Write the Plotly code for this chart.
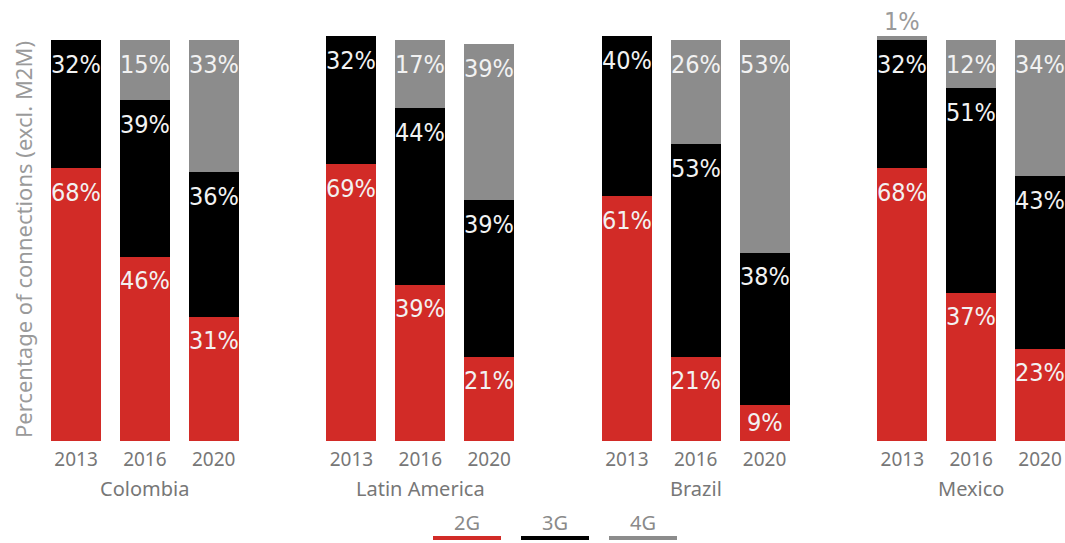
import plotly.graph_objects as go

groups = ["Colombia", "Latin America", "Brazil", "Mexico"]
years = ["2013", "2016", "2020"]
series_names = ["2G", "3G", "4G"]
share_2g = [68, 46, 31, 69, 39, 21, 61, 21, 9, 68, 37, 23]
share_3g = [32, 39, 36, 32, 44, 39, 40, 53, 38, 32, 51, 43]
share_4g = [0, 15, 33, 0, 17, 39, 0, 26, 53, 1, 12, 34]
colors = ["#D22B27", "#000000", "#8C8C8C"]

series = [share_2g, share_3g, share_4g]
x_pos = [4 * g + j for g in range(len(groups)) for j in range(len(years))]
year_labels = years * len(groups)

W, H = 1065, 543
M_T, M_B = 36, 102
Y_MAX = 101
plot_h = H - M_T - M_B
px_per_unit = plot_h / Y_MAX

fig = go.Figure()
for name, vals, col in zip(series_names, series, colors):
    fig.add_trace(go.Bar(
        x=x_pos, y=vals, name=name, width=0.726,
        marker=dict(color=col, line=dict(width=0)),
        showlegend=False, hoverinfo="name+y",
    ))

LABEL_FAMILY = "DejaVu Sans Condensed, Liberation Sans Narrow, Arial Narrow, sans-serif"
label_font = dict(family=LABEL_FAMILY, size=25, color="#F2F2F2")
annotations = []
for i, x in enumerate(x_pos):
    base = 0
    for vals in series:
        v = vals[i]
        if v == 0:
            continue
        top = base + v
        if v >= 5:
            shift = -min(24, v * px_per_unit / 2)
            annotations.append(dict(x=x, y=top, xref="x", yref="y", text=f"{v}%",
                                    showarrow=False, yanchor="middle", yshift=shift,
                                    font=label_font))
        else:
            annotations.append(dict(x=x, y=top, xref="x", yref="y", text=f"{v}%",
                                    showarrow=False, yanchor="bottom", yshift=-2,
                                    font=dict(family=LABEL_FAMILY, size=25, color="#9A9A9A")))
        base = top

axis_font = dict(family="Noto Sans", size=19, color="#777777")
for g, name in enumerate(groups):
    annotations.append(dict(x=4 * g + 1, y=0, xref="x", yref="paper", text=name,
                            showarrow=False, yanchor="middle", yshift=-47,
                            font=dict(family="Noto Sans", size=20, color="#777777")))

annotations.append(dict(x=23 / W, y=(H - M_B - 240) / plot_h, xref="paper", yref="paper",
                        text="Percentage of connections (excl. M2M)", textangle=-90,
                        showarrow=False, xanchor="center", yanchor="middle",
                        font=dict(family="Noto Sans", size=22, color="#9A9A9A")))

# custom legend: label over a coloured underline
legend_centers = [467, 555, 643]
shapes = []
for name, col, cx in zip(series_names, colors, legend_centers):
    annotations.append(dict(x=cx / W, y=0, xref="paper", yref="paper", text=name,
                            showarrow=False, yanchor="middle", yshift=-(522 - (H - M_B)),
                            font=dict(family="Noto Sans", size=20, color="#8A8A8A")))
    ly = -(538 - (H - M_B)) / plot_h
    shapes.append(dict(type="line", xref="paper", yref="paper",
                       x0=(cx - 34) / W, x1=(cx + 34) / W, y0=ly, y1=ly,
                       line=dict(color=col, width=4)))

fig.update_layout(
    width=W, height=H,
    margin=dict(l=0, r=0, t=M_T, b=M_B),
    barmode="stack",
    plot_bgcolor="white", paper_bgcolor="white",
    annotations=annotations, shapes=shapes,
    xaxis=dict(range=[-1.104, 14.363], tickvals=x_pos, ticktext=year_labels,
               showgrid=False, zeroline=False, showline=False, ticks="",
               tickfont=axis_font, ticklabelstandoff=5, fixedrange=True),
    yaxis=dict(range=[0, Y_MAX], visible=False, fixedrange=True),
)

fig.write_html("out.html",
               config={"displayModeBar": False},
               post_script="document.body.style.margin='0';document.body.style.overflow='hidden';")
